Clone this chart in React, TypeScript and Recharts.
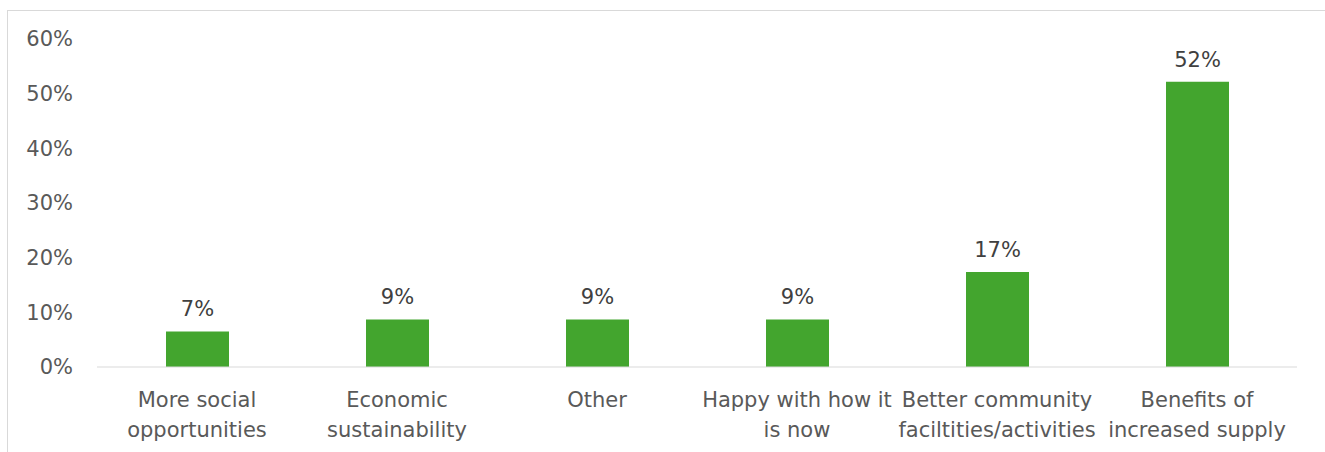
import { BarChart, Bar, XAxis, YAxis, LabelList } from 'recharts'

const categories = [
  'More social\nopportunities',
  'Economic\nsustainability',
  'Other',
  'Happy with how it\nis now',
  'Better community\nfaciltities/activities',
  'Benefits of\nincreased supply',
]
const shares = [6.5, 8.7, 8.7, 8.7, 17.4, 52.2]
const yTicks = [0, 10, 20, 30, 40, 50, 60]

const data = categories.map((name, i) => ({ name, share: shares[i] }))

const FONT = '"DejaVu Sans", Verdana, sans-serif'
const TEXT = '#595959'

function CategoryTick({ x, y, payload }: any) {
  const lines = String(payload.value).split('\n')
  return (
    <text x={x} y={y} textAnchor="middle" fill={TEXT} fontSize={21} fontFamily={FONT}>
      {lines.map((line, i) => (
        <tspan key={i} x={x} dy={i === 0 ? 40 : 30}>
          {line}
        </tspan>
      ))}
    </text>
  )
}

export default function App() {
  return (
    <div style={{ position: 'absolute', left: 0, top: 0, width: 1325, height: 452, overflow: 'hidden', background: '#fff' }}>
      <div
        style={{
          position: 'absolute', left: 7, top: 10, width: 1400, height: 500,
          border: '1px solid #d9d9d9', boxSizing: 'border-box',
        }}
      />
      <div style={{ position: 'absolute', left: 0, top: 0 }}>
        <BarChart
          width={1325}
          height={452}
          data={data}
          margin={{ top: 39, right: 28, bottom: 0, left: 0 }}
          style={{ fontFamily: FONT }}
        >
          <XAxis
            dataKey="name"
            height={85}
            interval={0}
            axisLine={{ stroke: '#d9d9d9' }}
            tickLine={false}
            tickSize={0}
            tickMargin={0}
            tick={<CategoryTick />}
          />
          <YAxis
            width={97}
            domain={[0, 60]}
            ticks={yTicks}
            axisLine={false}
            tickLine={false}
            tickSize={0}
            tickMargin={24}
            tick={{ fill: TEXT, fontSize: 21, fontFamily: FONT }}
            tickFormatter={(v: number) => `${v}%`}
          />
          <Bar dataKey="share" fill="#43a52e" barSize={63} isAnimationActive={false}>
            <LabelList
              dataKey="share"
              position="top"
              offset={15}
              fill="#404040"
              fontSize={21}
              fontFamily={FONT}
              formatter={(v: any) => `${Math.round(Number(v))}%`}
            />
          </Bar>
        </BarChart>
      </div>
    </div>
  )
}
